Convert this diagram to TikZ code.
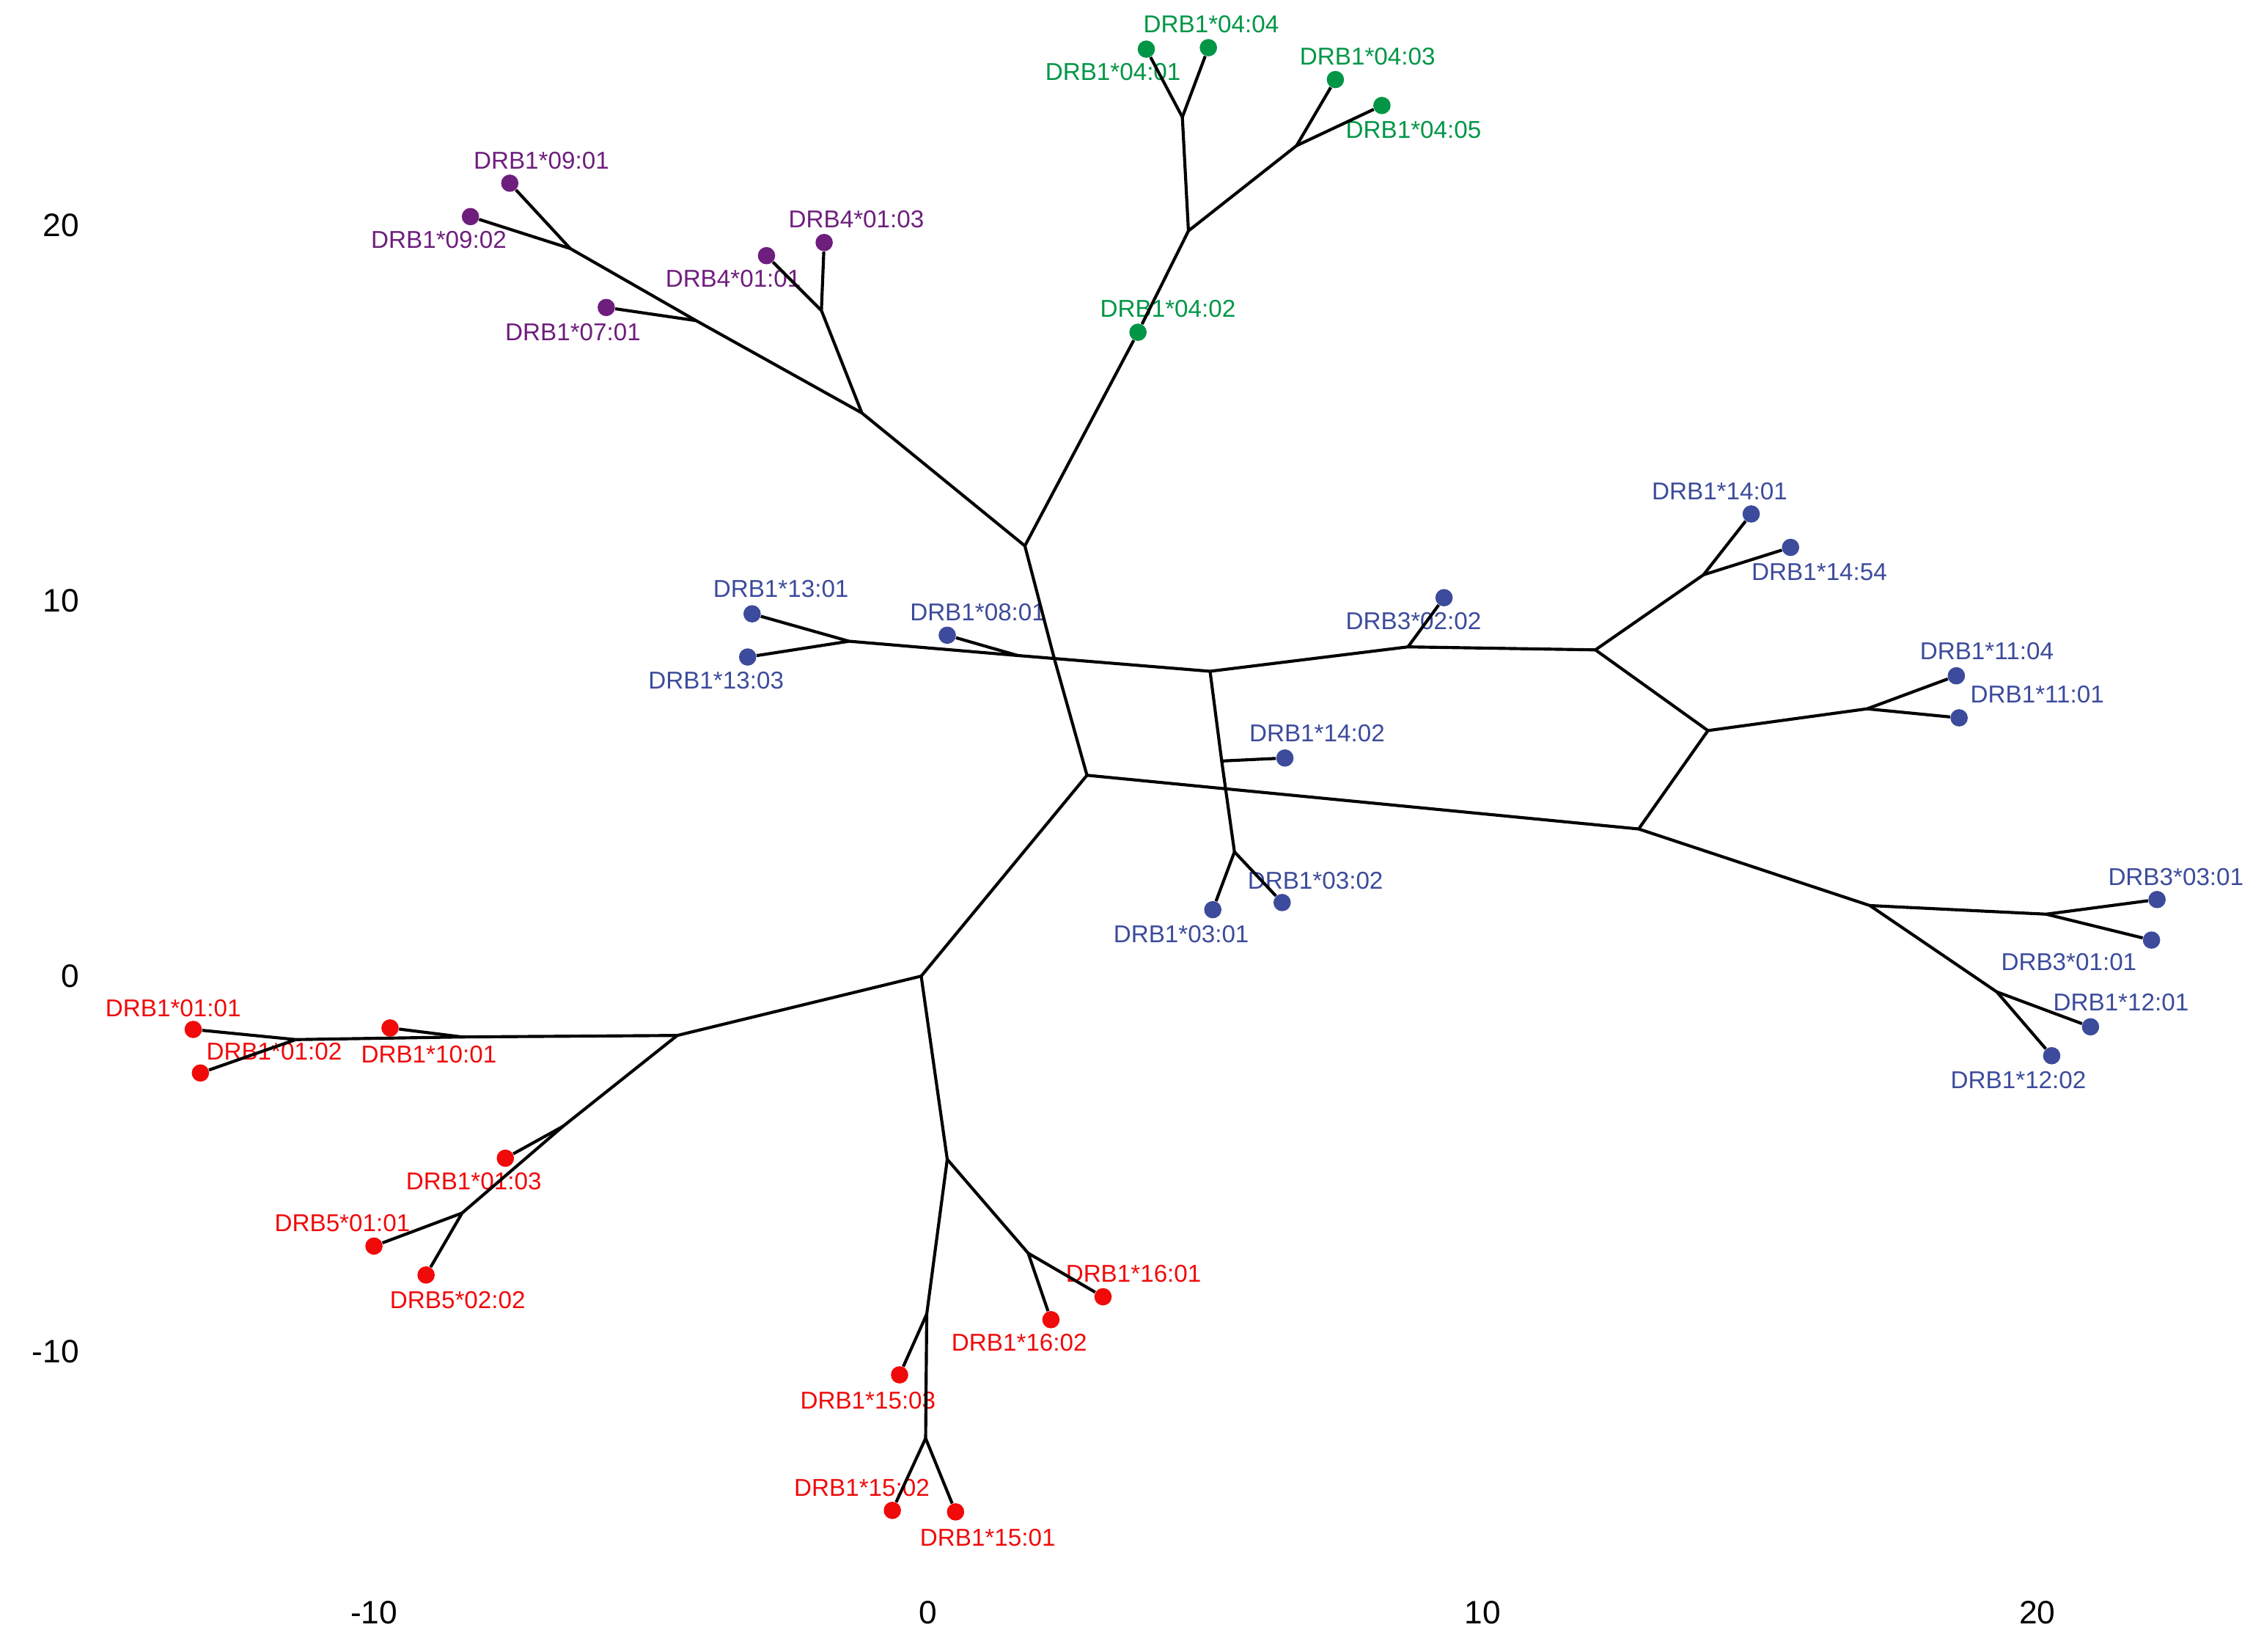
\documentclass[tikz,border=0pt]{standalone}
\usepackage{xcolor}
\usepackage{fontspec}
\setmainfont{Liberation Sans}
\usepackage{tikz}
\usetikzlibrary{arrows}

\definecolor{drgreen}{RGB}{0,150,70}
\definecolor{drpurple}{RGB}{110,30,125}
\definecolor{drblue}{RGB}{60,75,155}
\definecolor{drred}{RGB}{240,10,10}

\begin{document}
\begin{tikzpicture}[x=0.96cm,y=0.65cm,
  branch/.style={line width=1.5pt,black},
  allele/.style={circle,fill=#1,inner sep=0pt,minimum size=3.0mm},
  alabel/.style={text=#1,font=\fontsize{12}{14}\selectfont,inner sep=0pt},
  axnum/.style={font=\fontsize{16}{18}\selectfont,inner sep=0pt}]
\useasboundingbox (-16.745,-18.0) rectangle (24.089,26.0);

% axis numbers
\node[axnum,anchor=east] (y20) at (-15.31,20) {20};
\node[axnum,anchor=east] (y10) at (-15.31,10) {10};
\node[axnum,anchor=east] (y0) at (-15.31,0) {0};
\node[axnum,anchor=east] (ym10) at (-15.31,-10) {-10};
\node[axnum] (xm10) at (-10,-16.96) {-10};
\node[axnum] (x0) at (0,-16.96) {0};
\node[axnum] (x10) at (10,-16.96) {10};
\node[axnum] (x20) at (20,-16.96) {20};

% green group
\node[allele=drgreen] (a1_0404) at (5.05,24.73) {};
\node[allele=drgreen] (a1_0401) at (3.93,24.69) {};
\node[allele=drgreen] (a1_0403) at (7.34,23.88) {};
\node[allele=drgreen] (a1_0405) at (8.18,23.19) {};
\node[allele=drgreen] (a1_0402) at (3.78,17.15) {};
\node[alabel=drgreen] (l1_0404) at (5.10,25.35) {DRB1*04:04};
\node[alabel=drgreen] (l1_0401) at (3.33,24.08) {DRB1*04:01};
\node[alabel=drgreen] (l1_0403) at (7.92,24.50) {DRB1*04:03};
\node[alabel=drgreen] (l1_0405) at (8.75,22.54) {DRB1*04:05};
\node[alabel=drgreen] (l1_0402) at (4.32,17.77) {DRB1*04:02};
\coordinate (jg1) at (4.58,22.88);
\coordinate (jg2) at (6.64,22.12);
\coordinate (jg3) at (4.69,19.85);
\coordinate (jtop) at (1.74,11.46);

% purple group
\node[allele=drpurple] (a1_0901) at (-7.55,21.12) {};
\node[allele=drpurple] (a1_0902) at (-8.26,20.23) {};
\node[allele=drpurple] (a1_0701) at (-5.81,17.81) {};
\node[allele=drpurple] (a4_0101) at (-2.92,19.19) {};
\node[allele=drpurple] (a4_0103) at (-1.88,19.54) {};
\node[alabel=drpurple] (l1_0901) at (-6.98,21.73) {DRB1*09:01};
\node[alabel=drpurple] (l1_0902) at (-8.83,19.62) {DRB1*09:02};
\node[alabel=drpurple] (l1_0701) at (-6.41,17.15) {DRB1*07:01};
\node[alabel=drpurple] (l4_0101) at (-3.52,18.58) {DRB4*01:01};
\node[alabel=drpurple] (l4_0103) at (-1.30,20.15) {DRB4*01:03};
\coordinate (jp1) at (-6.46,19.38);
\coordinate (jp2) at (-4.19,17.46);
\coordinate (jp3) at (-1.93,17.73);
\coordinate (jp4) at (-1.20,15.0);

% blue group
\node[allele=drblue] (a1_1301) at (-3.18,9.65) {};
\node[allele=drblue] (a1_1303) at (-3.26,8.50) {};
\node[allele=drblue] (a1_0801) at (0.34,9.08) {};
\node[allele=drblue] (a3_0202) at (9.30,10.08) {};
\node[allele=drblue] (a1_1401) at (14.84,12.31) {};
\node[allele=drblue] (a1_1454) at (15.55,11.42) {};
\node[allele=drblue] (a1_1104) at (18.54,8.0) {};
\node[allele=drblue] (a1_1101) at (18.59,6.88) {};
\node[allele=drblue] (a1_1402) at (6.43,5.81) {};
\node[allele=drblue] (a1_0301) at (5.13,1.77) {};
\node[allele=drblue] (a1_0302) at (6.38,1.96) {};
\node[allele=drblue] (a3_0301) at (22.16,2.04) {};
\node[allele=drblue] (a3_0101) at (22.06,0.96) {};
\node[allele=drblue] (a1_1201) at (20.96,-1.35) {};
\node[allele=drblue] (a1_1202) at (20.26,-2.12) {};
\node[alabel=drblue] (l1_1301) at (-2.66,10.31) {DRB1*13:01};
\node[alabel=drblue] (l1_1303) at (-3.83,7.88) {DRB1*13:03};
\node[alabel=drblue] (l1_0801) at (0.89,9.69) {DRB1*08:01};
\node[alabel=drblue] (l3_0202) at (8.75,9.46) {DRB3*02:02};
\node[alabel=drblue] (l1_1401) at (14.27,12.92) {DRB1*14:01};
\node[alabel=drblue] (l1_1454) at (16.07,10.77) {DRB1*14:54};
\node[alabel=drblue] (l1_1104) at (19.09,8.65) {DRB1*11:04};
\node[alabel=drblue] (l1_1101) at (20.0,7.5) {DRB1*11:01};
\node[alabel=drblue] (l1_1402) at (7.01,6.46) {DRB1*14:02};
\node[alabel=drblue] (l1_0301) at (4.56,1.12) {DRB1*03:01};
\node[alabel=drblue] (l1_0302) at (6.98,2.54) {DRB1*03:02};
\node[alabel=drblue] (l3_0301) at (22.5,2.65) {DRB3*03:01};
\node[alabel=drblue] (l3_0101) at (20.57,0.38) {DRB3*01:01};
\node[alabel=drblue] (l1_1201) at (21.51,-0.69) {DRB1*12:01};
\node[alabel=drblue] (l1_1202) at (19.66,-2.77) {DRB1*12:02};
\coordinate (jb1) at (-1.43,8.92);
\coordinate (jb2) at (1.61,8.54);
\coordinate (xa) at (2.27,8.46);
\coordinate (jb3) at (5.08,8.12);
\coordinate (jb4) at (8.65,8.77);
\coordinate (jb5) at (12.03,8.69);
\coordinate (jb6) at (13.98,10.69);
\coordinate (jb7) at (14.06,6.54);
\coordinate (jb8) at (16.93,7.12);
\coordinate (jb9) at (12.81,3.92);
\coordinate (jcen) at (2.86,5.35);
\coordinate (xb) at (5.36,4.99);
\coordinate (jb10) at (5.29,5.73);
\coordinate (jb11) at (5.52,3.31);
\coordinate (jb12) at (16.98,1.88);
\coordinate (jb13) at (20.16,1.65);
\coordinate (jb14) at (19.27,-0.42);

% red group
\node[allele=drred] (a1_0101) at (-13.26,-1.42) {};
\node[allele=drred] (a1_0102) at (-13.13,-2.58) {};
\node[allele=drred] (a1_1001) at (-9.71,-1.38) {};
\node[allele=drred] (a1_0103) at (-7.63,-4.85) {};
\node[allele=drred] (a5_0101) at (-10.0,-7.19) {};
\node[allele=drred] (a5_0202) at (-9.06,-7.96) {};
\node[allele=drred] (a1_1601) at (3.15,-8.54) {};
\node[allele=drred] (a1_1602) at (2.21,-9.15) {};
\node[allele=drred] (a1_1503) at (-0.52,-10.62) {};
\node[allele=drred] (a1_1502) at (-0.65,-14.23) {};
\node[allele=drred] (a1_1501) at (0.49,-14.27) {};
\node[alabel=drred] (l1_0101) at (-13.62,-0.85) {DRB1*01:01};
\node[alabel=drred] (l1_0102) at (-11.80,-2.0) {DRB1*01:02};
\node[alabel=drred] (l1_1001) at (-9.01,-2.08) {DRB1*10:01};
\node[alabel=drred] (l1_0103) at (-8.20,-5.46) {DRB1*01:03};
\node[alabel=drred] (l5_0101) at (-10.57,-6.58) {DRB5*01:01};
\node[alabel=drred] (l5_0202) at (-8.49,-8.62) {DRB5*02:02};
\node[alabel=drred] (l1_1601) at (3.70,-7.92) {DRB1*16:01};
\node[alabel=drred] (l1_1602) at (1.64,-9.77) {DRB1*16:02};
\node[alabel=drred] (l1_1503) at (-1.09,-11.31) {DRB1*15:03};
\node[alabel=drred] (l1_1502) at (-1.20,-13.62) {DRB1*15:02};
\node[alabel=drred] (l1_1501) at (1.07,-14.96) {DRB1*15:01};
\coordinate (jr0) at (-0.13,0);
\coordinate (jr1) at (-4.53,-1.58);
\coordinate (jr1a) at (-8.41,-1.62);
\coordinate (jr2) at (-11.41,-1.69);
\coordinate (jr3) at (-6.59,-4.0);
\coordinate (jr4) at (-8.41,-6.31);
\coordinate (jr5) at (0.34,-4.88);
\coordinate (jr6) at (1.80,-7.38);
\coordinate (jr7) at (-0.03,-9.0);
\coordinate (jr8) at (-0.05,-12.31);

% branches
\draw[branch] (jg1) -- (a1_0401);
\draw[branch] (jg1) -- (a1_0404);
\draw[branch] (jg2) -- (a1_0403);
\draw[branch] (jg2) -- (a1_0405);
\draw[branch] (jg1) -- (jg3) -- (jg2);
\draw[branch] (jtop) -- (a1_0402) -- (jg3);

\draw[branch] (jp1) -- (a1_0901);
\draw[branch] (jp1) -- (a1_0902);
\draw[branch] (jp2) -- (a1_0701);
\draw[branch] (jp1) -- (jp2) -- (jp4);
\draw[branch] (jp3) -- (a4_0101);
\draw[branch] (jp3) -- (a4_0103);
\draw[branch] (jp3) -- (jp4) -- (jtop);

\draw[branch] (jb1) -- (a1_1301);
\draw[branch] (jb1) -- (a1_1303);
\draw[branch] (jb1) -- (jb2) -- (xa) -- (jb3);
\draw[branch] (jb2) -- (a1_0801);
\draw[branch] (jtop) -- (xa) -- (jcen);
\draw[branch] (jb3) -- (jb4) -- (jb5);
\draw[branch] (jb4) -- (a3_0202);
\draw[branch] (jb5) -- (jb6);
\draw[branch] (jb6) -- (a1_1401);
\draw[branch] (jb6) -- (a1_1454);
\draw[branch] (jb5) -- (jb7) -- (jb8);
\draw[branch] (jb8) -- (a1_1104);
\draw[branch] (jb8) -- (a1_1101);
\draw[branch] (jb7) -- (jb9);
\draw[branch] (jcen) -- (xb) -- (jb9);
\draw[branch] (jb3) -- (jb10) -- (xb) -- (jb11);
\draw[branch] (jb10) -- (a1_1402);
\draw[branch] (jb11) -- (a1_0301);
\draw[branch] (jb11) -- (a1_0302);
\draw[branch] (jb9) -- (jb12) -- (jb13);
\draw[branch] (jb13) -- (a3_0301);
\draw[branch] (jb13) -- (a3_0101);
\draw[branch] (jb12) -- (jb14);
\draw[branch] (jb14) -- (a1_1201);
\draw[branch] (jb14) -- (a1_1202);

\draw[branch] (jcen) -- (jr0);
\draw[branch] (jr0) -- (jr1) -- (jr1a) -- (jr2);
\draw[branch] (jr1a) -- (a1_1001);
\draw[branch] (jr2) -- (a1_0101);
\draw[branch] (jr2) -- (a1_0102);
\draw[branch] (jr1) -- (jr3) -- (jr4);
\draw[branch] (jr3) -- (a1_0103);
\draw[branch] (jr4) -- (a5_0101);
\draw[branch] (jr4) -- (a5_0202);
\draw[branch] (jr0) -- (jr5) -- (jr6);
\draw[branch] (jr6) -- (a1_1601);
\draw[branch] (jr6) -- (a1_1602);
\draw[branch] (jr5) -- (jr7) -- (jr8);
\draw[branch] (jr7) -- (a1_1503);
\draw[branch] (jr8) -- (a1_1502);
\draw[branch] (jr8) -- (a1_1501);
\end{tikzpicture}
\end{document}
